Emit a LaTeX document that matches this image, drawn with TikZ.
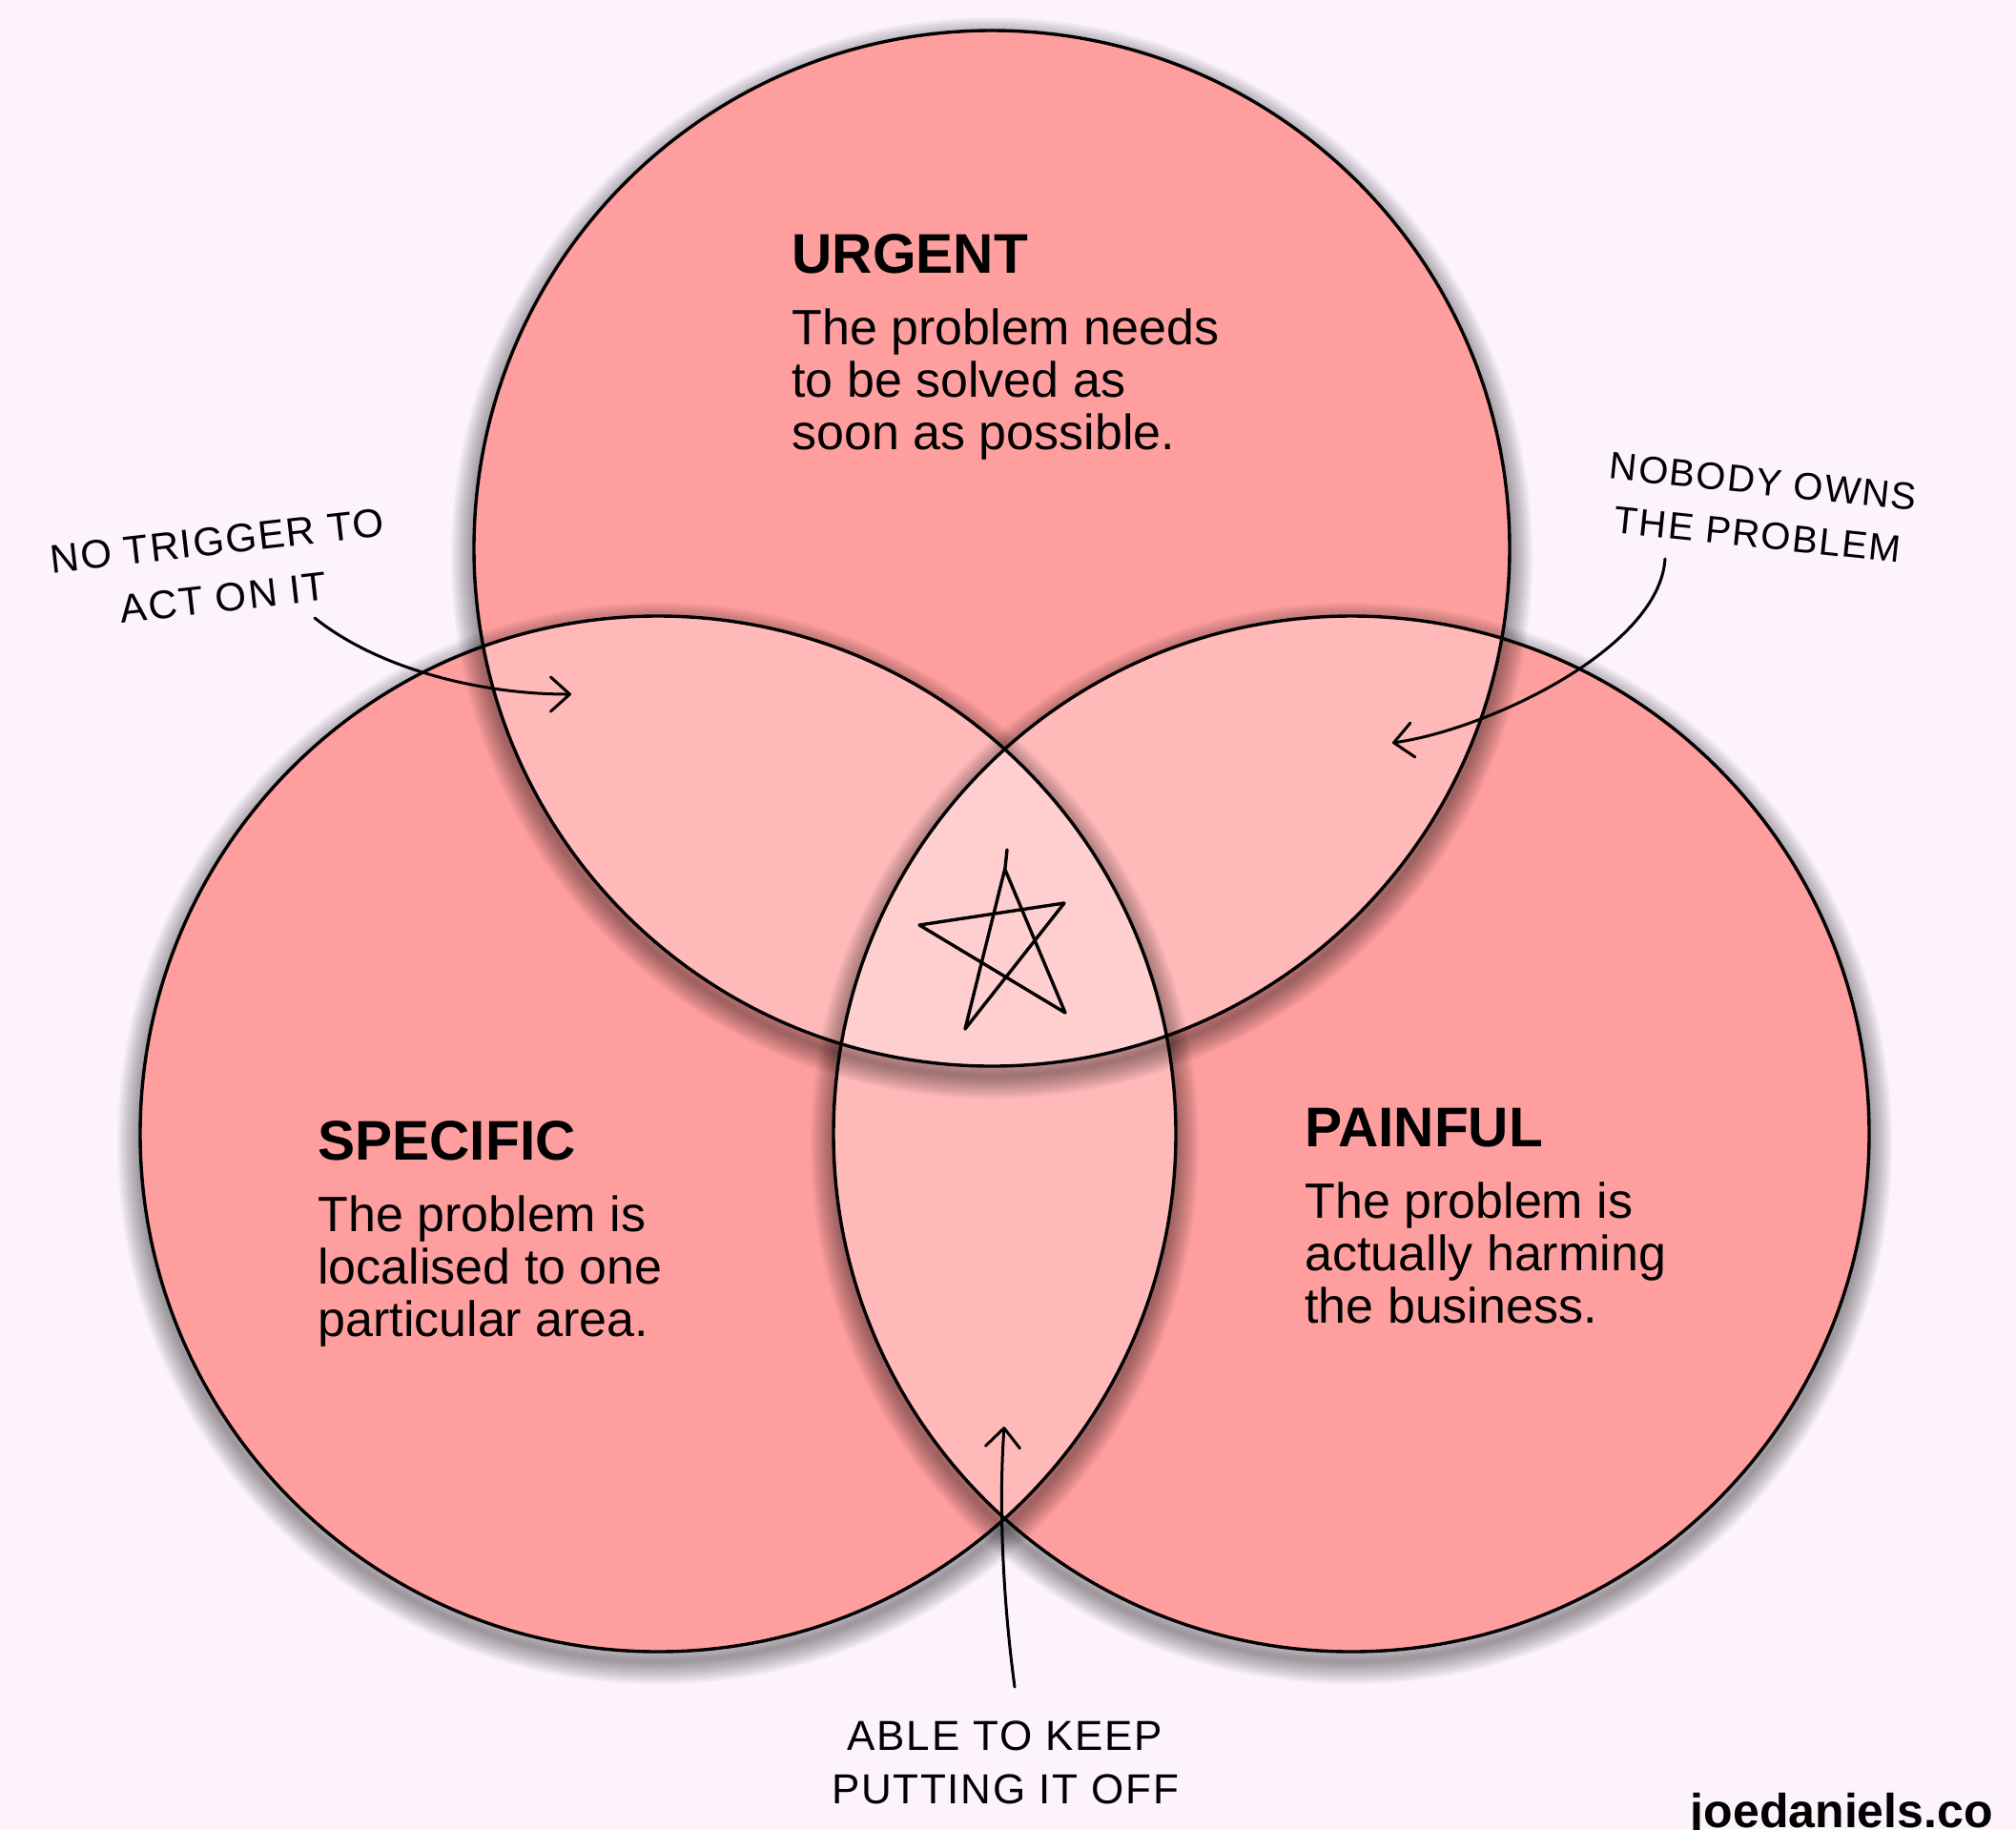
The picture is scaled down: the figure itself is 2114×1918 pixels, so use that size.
\documentclass[tikz,border=0pt]{standalone}
\usepackage{fontspec}
\setmainfont{Liberation Sans}
\newfontfamily\handfont[LetterSpace=4]{Liberation Sans}
\usetikzlibrary{positioning,calc,arrows.meta}
\definecolor{bgpink}{HTML}{FCF3FC}
\definecolor{onecol}{HTML}{FF9E9E}
\definecolor{twocol}{HTML}{FFB9B9}
\definecolor{threecol}{HTML}{FFCFCF}
\begin{document}
\begin{tikzpicture}[x=0.5pt,y=-0.5pt,
    ring/.style={draw,line width=1.7pt},
    title/.style={anchor=base west,inner sep=0pt,font=\bfseries\fontsize{29.3}{32}\selectfont},
    body/.style={align=left,inner sep=0pt,font=\fontsize{26}{27.5}\selectfont},
    hand/.style={align=center,inner sep=0pt,font=\handfont\fontsize{21}{28}\selectfont},
    note arrow/.style={line width=1.5pt,line cap=round,-{Straight Barb[length=10pt,width=18pt,round]}}]
\useasboundingbox (0,0) rectangle (2114,1918);
\fill[bgpink] (0,0) rectangle (2114,1918);
\def\rad{271.5pt}
\coordinate (urgent) at (1040,575);
\coordinate (specific) at (690,1189);
\coordinate (painful) at (1417,1189);
% the three sets
\foreach \c in {urgent,specific,painful}
  \fill[onecol] (\c) circle (\rad);
\foreach \a/\b in {urgent/specific,urgent/painful,specific/painful}{
  \begin{scope}
    \clip (\a) circle (\rad);
    \fill[twocol] (\b) circle (\rad);
  \end{scope}}
\begin{scope}
  \clip (urgent) circle (\rad);
  \clip (specific) circle (\rad);
  \fill[threecol] (painful) circle (\rad);
\end{scope}
% soft shadow round each circle
\foreach \c in {urgent,specific,painful}{
  \begin{scope}[even odd rule]
    \clip (-50,-50) rectangle (2200,2000) (\c) circle (\rad);
    \foreach \w in {2,4,...,24}
      \draw[black,opacity=0.035,line width=\w pt] ($(\c)+(0,10)$) circle (\rad);
  \end{scope}}
\foreach \c in {urgent,specific,painful}
  \draw[ring] (\c) circle (\rad);

\node[title] (urgent title) at (830,286) {URGENT};
\node[body,below right=18.5pt and 0pt of urgent title.base west] (urgent text) {The problem needs\\to be solved as\\soon as possible.};
\node[title] (specific title) at (333,1216) {SPECIFIC};
\node[body,below right=18.5pt and 0pt of specific title.base west] (specific text) {The problem is\\localised to one\\particular area.};
\node[title] (painful title) at (1368,1202) {PAINFUL};
\node[body,below right=18.5pt and 0pt of painful title.base west] (painful text) {The problem is\\actually harming\\the business.};

% star in the middle
\draw[line width=1.7pt,line join=round,line cap=round] (1056,891) -- (1054,910) -- (1012,1079) -- (1116,947) -- (964,970) -- (1117,1062) -- (1054,912);

% notes
\node[hand,rotate=6.5,font=\handfont\fontsize{21}{30}\selectfont] (trigger) at (231,597) {NO TRIGGER TO\\ACT ON IT};
\node[hand,rotate=-6,font=\handfont\fontsize{20}{28}\selectfont] (nobody) at (1846,533) {NOBODY OWNS\\THE PROBLEM};
\node[hand,font=\handfont\fontsize{22}{28}\selectfont] (able) at (1054,1848) {ABLE TO KEEP\\PUTTING IT OFF};

\coordinate (trigger tail) at (330,648);
\coordinate (trigger tip) at (599,728);
\coordinate (nobody tail) at (1746,586);
\coordinate (nobody tip) at (1460,779);
\coordinate (able tail) at (1064,1769);
\coordinate (able tip) at (1053,1496);
\draw[note arrow] (trigger tail) .. controls (395,700) and (500,728) .. (trigger tip);
\draw[note arrow] (nobody tail) .. controls (1740,680) and (1560,765) .. (nobody tip);
\draw[note arrow] (able tail) .. controls (1052,1680) and (1047,1580) .. (able tip);

\node[anchor=base east,inner sep=0pt,font=\bfseries\fontsize{25}{30}\selectfont] (credit) at (2090,1916) {joedaniels.co};
\end{tikzpicture}
\end{document}
